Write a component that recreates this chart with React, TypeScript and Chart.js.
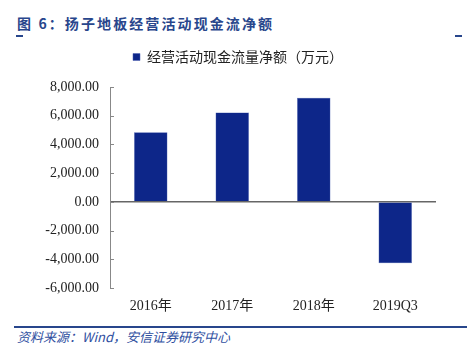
import React, { useEffect, useRef } from "react";
import { Chart, registerables } from "chart.js";
Chart.register(...registerables);

const categories = ["2016年", "2017年", "2018年", "2019Q3"];
const netCashFlow = [4850, 6220, 7250, -4280];
const seriesName = "经营活动现金流量净额（万元）";
const yMin = -6000;
const yMax = 8000;
const yStep = 2000;

const innerTicks = {
  id: "innerTicks",
  afterDraw(chart: any) {
    const y = chart.scales.y;
    const ctx = chart.ctx;
    ctx.save();
    ctx.strokeStyle = "#888888";
    ctx.lineWidth = 1;
    y.ticks.forEach((t: any) => {
      const py = Math.round(y.getPixelForValue(t.value)) + 0.5;
      ctx.beginPath();
      ctx.moveTo(y.right, py);
      ctx.lineTo(y.right + 4, py);
      ctx.stroke();
    });
    ctx.restore();
  },
};

const legendHeight = {
  id: "legendHeight",
  beforeInit(chart: any) {
    const lg = chart.legend;
    if (!lg) return;
    const orig = lg.fit;
    lg.fit = function () {
      orig.call(this);
      this.height = 47;
    };
  },
};

export default function App() {
  const ref = useRef<HTMLCanvasElement>(null);
  useEffect(() => {
    const chart = new Chart(ref.current!, {
      type: "bar",
      data: {
        labels: categories,
        datasets: [
          {
            label: seriesName,
            data: netCashFlow,
            backgroundColor: "#0d2689",
            borderColor: "#4a5fb0",
            borderWidth: 0.5,
            barPercentage: 0.41,
            categoryPercentage: 1,
          },
        ],
      },
      options: {
        animation: false,
        responsive: false,
        devicePixelRatio: 1,
        layout: { padding: { left: 40, right: 31, top: 0, bottom: 0 } },
        plugins: {
          legend: {
            display: true,
            position: "top",
            labels: {
              usePointStyle: true,
              pointStyle: "rect",
              boxWidth: 7,
              boxHeight: 7,
              padding: 10,
              color: "#222222",
              font: { family: "'Noto Sans CJK SC', sans-serif", size: 14 },
            },
          },
          tooltip: { enabled: false },
        },
        scales: {
          x: {
            border: { display: false },
            grid: { display: false, drawTicks: false },
            ticks: {
              color: "#222222",
              padding: 10,
              font: { family: "'Liberation Serif', 'Noto Sans CJK SC', serif", size: 14 },
              maxRotation: 0,
            },
            afterFit(scale: any) {
              scale.height = 32;
            },
          },
          y: {
            min: yMin,
            max: yMax,
            border: { display: true, color: "#888888" },
            grid: {
              drawTicks: false,
              color: (ctx: any) => (ctx.tick && ctx.tick.value === 0 ? "#666666" : "rgba(0,0,0,0)"),
              lineWidth: (ctx: any) => (ctx.tick && ctx.tick.value === 0 ? 1.5 : 0),
            },
            ticks: {
              stepSize: yStep,
              padding: 11,
              color: "#222222",
              font: { family: "'Liberation Serif', serif", size: 14 },
              callback: (v: any) =>
                Number(v).toLocaleString("en-US", { minimumFractionDigits: 2, maximumFractionDigits: 2 }),
            },
            afterFit(scale: any) {
              scale.width = 70;
            },
          },
        },
      },
      plugins: [innerTicks, legendHeight],
    });
    return () => chart.destroy();
  }, []);

  return (
    <div style={{ position: "fixed", left: 0, top: 0, width: 467, height: 353, background: "#fff", overflow: "hidden" }}>
      <div
        style={{
          position: "absolute",
          left: 17,
          top: 13,
          fontFamily: "'Noto Sans CJK SC', sans-serif",
          fontWeight: 700,
          fontSize: 14,
          letterSpacing: 2.1,
          color: "#28468c",
          whiteSpace: "nowrap",
          lineHeight: "20px",
        }}
      >
        图 6：扬子地板经营活动现金流净额
      </div>
      <div style={{ position: "absolute", left: 16, top: 35, width: 7, height: 2, background: "#28468c" }} />
      <div style={{ position: "absolute", left: 455, top: 35, width: 7, height: 2, background: "#28468c" }} />
      <canvas ref={ref} width={467} height={280} style={{ position: "absolute", left: 0, top: 40, width: 467, height: 280 }} />
      <div style={{ position: "absolute", left: 14, top: 326, width: 453, height: 1.5, background: "#28468c" }} />
      <div
        style={{
          position: "absolute",
          left: 17,
          top: 328,
          fontFamily: "'Noto Sans CJK SC', sans-serif",
          fontStyle: "italic",
          fontSize: 13,
          color: "#2f4f9f",
          whiteSpace: "nowrap",
          lineHeight: "17px",
        }}
      >
        资料来源：Wind，安信证券研究中心
      </div>
    </div>
  );
}
